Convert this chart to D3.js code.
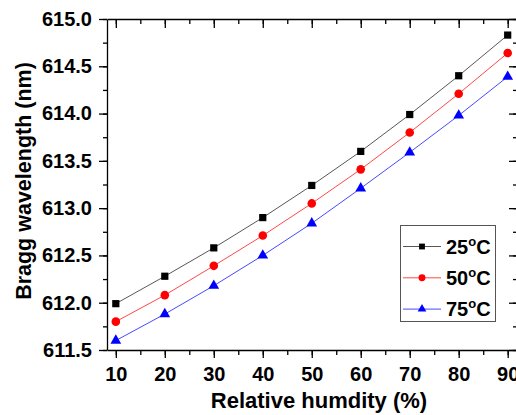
<!doctype html>
<html lang="en">
<head>
  <script src="https://cdnjs.cloudflare.com/ajax/libs/d3/7.8.5/d3.min.js"></script>
  <style type="text/css">
    body {
      padding: 0;
      margin: 0;
      background: #fff;
    }
    svg text {
      font-family: Arial, "Liberation Sans", sans-serif;
      font-weight: bold;
      fill: #000;
    }
  </style>
</head>
<body>
<svg id="canvas" width="516" height="415"></svg>
<script>

var humidity = [10, 20, 30, 40, 50, 60, 70, 80, 90];
var temps = ['25', '50', '75'];
var wl25 = [611.99, 612.28, 612.58, 612.90, 613.24, 613.60, 613.99, 614.40, 614.83];
var wl50 = [611.80, 612.08, 612.39, 612.71, 613.05, 613.41, 613.80, 614.21, 614.64];
var wl75 = [611.60, 611.88, 612.18, 612.50, 612.84, 613.21, 613.59, 613.98, 614.39];
var xTicks = [10, 20, 30, 40, 50, 60, 70, 80, 90];
var yTicks = [611.5, 612.0, 612.5, 613.0, 613.5, 614.0, 614.5, 615.0];

var plotLeft = 107, plotRight = 517, plotTop = 19, plotBottom = 350;

var svg = d3.select('#canvas');

var x = d3.scaleLinear().domain([8.2, 91.9]).range([plotLeft, plotRight]);
var y = d3.scaleLinear().domain([611.5, 615.0]).range([plotBottom, plotTop]);

var xMinor = d3.range(10, 95, 5);
var yMinor = d3.range(611.5, 615.01, 0.25);

function noDomain(g) { g.select('.domain').remove(); }

// bottom axis, ticks out
svg.append('g')
  .attr('transform', 'translate(0,' + plotBottom + ')')
  .call(d3.axisBottom(x).tickValues(xMinor).tickSize(5).tickFormat(''))
  .call(noDomain);
svg.append('g')
  .attr('class', 'xaxis')
  .attr('transform', 'translate(0,' + plotBottom + ')')
  .call(d3.axisBottom(x).tickValues(xTicks).tickSize(8).tickSizeOuter(0).tickPadding(9));

// top axis, ticks in
svg.append('g')
  .attr('transform', 'translate(0,' + plotTop + ')')
  .call(d3.axisBottom(x).tickValues(xMinor).tickSize(5).tickFormat(''))
  .call(noDomain);
svg.append('g')
  .attr('transform', 'translate(0,' + plotTop + ')')
  .call(d3.axisBottom(x).tickValues(xTicks).tickSize(9).tickSizeOuter(0).tickFormat(''));

// left axis, ticks out
svg.append('g')
  .attr('transform', 'translate(' + plotLeft + ',0)')
  .call(d3.axisLeft(y).tickValues(yMinor).tickSize(4).tickFormat(''))
  .call(noDomain);
svg.append('g')
  .attr('class', 'yaxis')
  .attr('transform', 'translate(' + plotLeft + ',0)')
  .call(d3.axisLeft(y).tickValues(yTicks).tickSize(8).tickSizeOuter(0).tickPadding(7)
    .tickFormat(d3.format('.1f')));

// right axis, ticks in
svg.append('g')
  .attr('transform', 'translate(' + plotRight + ',0)')
  .call(d3.axisLeft(y).tickValues(yMinor).tickSize(4).tickFormat(''))
  .call(noDomain);
svg.append('g')
  .attr('transform', 'translate(' + plotRight + ',0)')
  .call(d3.axisLeft(y).tickValues(yTicks).tickSize(8).tickSizeOuter(0).tickFormat(''));

svg.selectAll('.domain').attr('stroke', '#000').attr('stroke-width', 1.3);
svg.selectAll('.tick line').attr('stroke', '#000').attr('stroke-width', 1.3);
svg.selectAll('.xaxis text, .yaxis text')
  .style('font-size', '20px')
  .attr('fill', '#000');

// axis titles
svg.append('text')
  .attr('x', 319)
  .attr('y', 408)
  .attr('text-anchor', 'middle')
  .style('font-size', '22px')
  .text('Relative humdity (%)');

svg.append('text')
  .attr('transform', 'translate(31,181) rotate(-90)')
  .attr('text-anchor', 'middle')
  .style('font-size', '21.5px')
  .text('Bragg wavelength (nm)');

// series
var series = [
  { name: temps[0], values: wl25, color: '#000', line: '#444', symbol: d3.symbolSquare, size: 52 },
  { name: temps[1], values: wl50, color: '#f00', line: '#f33', symbol: d3.symbolCircle, size: 58 },
  { name: temps[2], values: wl75, color: '#00f', line: '#33f', symbol: d3.symbolTriangle, size: 50 }
];

var line = d3.line()
  .x(function(d, i) { return x(humidity[i]); })
  .y(function(d) { return y(d); });

series.forEach(function(s) {
  svg.append('path')
    .attr('d', line(s.values))
    .attr('fill', 'none')
    .attr('stroke', s.line)
    .attr('stroke-width', 0.9);

  svg.selectAll(null).data(s.values).enter().append('path')
    .attr('d', d3.symbol().type(s.symbol).size(s.size))
    .attr('transform', function(d, i) {
      return 'translate(' + x(humidity[i]) + ',' + y(d) + ')';
    })
    .attr('fill', s.color);
});

// legend
var legend = svg.append('g');
legend.append('rect')
  .attr('x', 400.5)
  .attr('y', 225.5)
  .attr('width', 95)
  .attr('height', 96)
  .attr('fill', '#fff')
  .attr('stroke', '#555')
  .attr('stroke-width', 1);

series.forEach(function(s, i) {
  var ly = 246.5 + i * 31.3;
  legend.append('line')
    .attr('x1', 403).attr('x2', 441)
    .attr('y1', ly).attr('y2', ly)
    .attr('stroke', s.line)
    .attr('stroke-width', 0.9);
  legend.append('path')
    .attr('d', d3.symbol().type(s.symbol).size(s.size * 0.65))
    .attr('transform', 'translate(422,' + ly + ')')
    .attr('fill', s.color);
  var t = legend.append('text')
    .attr('x', 446)
    .attr('y', ly + 7)
    .style('font-size', '20px');
  t.append('tspan').text(s.name);
  t.append('tspan').attr('dy', -8).style('font-size', '13px').text('o');
  t.append('tspan').attr('dy', 8).text('C');
});

</script>
</body>
</html>
